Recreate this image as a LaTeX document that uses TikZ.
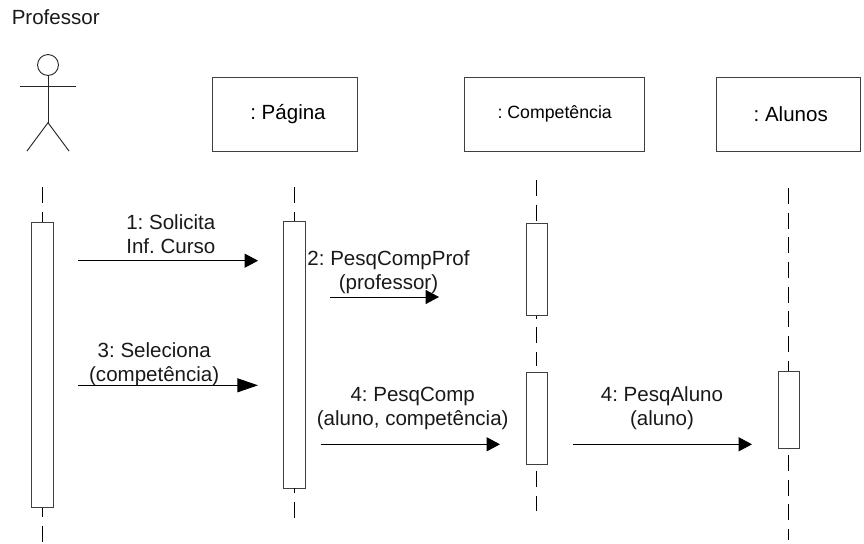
\documentclass[tikz,border=0pt]{standalone}
\usepackage{fontspec}
\setmainfont{Liberation Sans}
\usetikzlibrary{arrows.meta}
\frenchspacing
\newcommand\twolines[2]{#1\strut\\#2\strut}
\tikzset{
  x=0.75pt,y=-0.75pt,
  txt/.style={font=\frenchspacing\fontsize{15.4}{18}\selectfont,text=black!90,inner sep=0pt},
  msg/.style={txt,anchor=south,align=center},
  objbox/.style={draw=black!75,line width=0.7pt,minimum height=55.5pt,inner sep=0pt,font=\frenchspacing\fontsize{15.4}{18}\selectfont},
  actbox/.style={draw=black!75,line width=0.7pt,inner sep=0pt,minimum width=16.3pt},
  life/.style={line width=0.85pt,dash pattern=on 12pt off 6.5pt},
  call/.style={line width=0.7pt,-{Triangle[length=10pt,width=10.5pt]}},
  calllong/.style={line width=0.7pt,-{Triangle[length=15.5pt,width=10.5pt]}},
  limb/.style={line width=0.7pt,draw=black!85},
}
\begin{document}
\begin{tikzpicture}
\useasboundingbox (0,0) rectangle (864,543);
% actor
\node[txt,anchor=base west] (prof) at (11.5,24.5) {Professor};
\node[circle,draw=black!85,line width=0.7pt,minimum size=15.7pt,inner sep=0pt] (head) at (48,65) {};
\coordinate (hip) at (48,122.7);
\coordinate (armL) at (20,86);
\coordinate (armR) at (76,86);
\coordinate (legL) at (27,151);
\coordinate (legR) at (69,151);
\draw[limb] (head.south) -- (hip);
\draw[limb] (armL) -- (armR);
\draw[limb] (legL) -- (hip) -- (legR);
% objects
\node[objbox,minimum width=108.4pt] (pagina) at (284.75,114) {\hspace*{4.9pt}: Página};
\node[objbox,minimum width=135pt,font=\frenchspacing\fontsize{13.3}{16}\selectfont] (comp) at (554.7,114) {: Competência};
\node[objbox,minimum width=108.3pt] (alunos) at (788.5,114) {\hspace*{3.3pt}: Alunos};
% activations
\node[actbox,minimum height=214pt] (a1) at (42.6,365) {};
\node[actbox,minimum height=200.2pt] (a2) at (294.75,354.5) {};
\node[actbox,minimum height=69.2pt] (a3) at (536.85,269.15) {};
\node[actbox,minimum height=69.2pt] (a4) at (536.85,418.15) {};
\node[actbox,minimum height=58.3pt] (a5) at (788.85,409.85) {};
% lifelines
\coordinate (l1t) at (42.6,187);
\coordinate (l1b) at (42.6,542);
\coordinate (l2t) at (294.75,187);
\coordinate (l2b) at (294.75,517.6);
\coordinate (l3t) at (536.85,180);
\coordinate (l3e) at (536.85,221);
\coordinate (l3m) at (536.85,366);
\coordinate (l3s) at (536.85,471);
\coordinate (l3b) at (536.85,511);
\coordinate (l4t) at (788.85,188);
\coordinate (l4s) at (788.85,455);
\coordinate (l4b) at (788.85,540);
\draw[life] (l1t) -- (a1.north);
\draw[life,dash phase=5.25pt] (a1.south) -- (l1b);
\draw[life] (l2t) -- (a2.north);
\draw[life,dash phase=8.25pt] (a2.south) -- (l2b);
\draw[life] (l3t) -- (l3e);
\draw[life,dash phase=9.75pt] (a3.south) -- (l3m);
\draw[life] (l3s) -- (l3b);
\draw[life] (l4t) -- (a5.north);
\draw[life] (l4s) -- (l4b);
% messages
\coordinate (m1a) at (78,260.7);
\coordinate (m1b) at (258,260.7);
\coordinate (m2a) at (330,297);
\coordinate (m2b) at (439,297);
\coordinate (m3a) at (78,385.3);
\coordinate (m3b) at (258,385.3);
\coordinate (m4a) at (321,444.3);
\coordinate (m4b) at (500,444.3);
\coordinate (m5a) at (572.7,444.3);
\coordinate (m5b) at (752,444.3);
\draw[call] (m1a) -- (m1b);
\draw[call] (m2a) -- (m2b);
\draw[calllong] (m3a) -- (m3b);
\draw[call] (m4a) -- (m4b);
\draw[call] (m5a) -- (m5b);
% labels
\node[msg] (t1) at (170.8,261.2) {\twolines{1: Solicita}{Inf. Curso}};
\node[msg] (t2) at (388.5,297.2) {\twolines{2: PesqCompProf}{(professor)}};
\node[msg] (t3) at (154.2,389.2) {\twolines{3: Seleciona}{(competência)}};
\node[msg] (t4) at (412.7,433.2) {\twolines{4: PesqComp}{(aluno, competência)}};
\node[msg] (t5) at (662,433.2) {\twolines{4: PesqAluno}{(aluno)}};
\end{tikzpicture}
\end{document}
